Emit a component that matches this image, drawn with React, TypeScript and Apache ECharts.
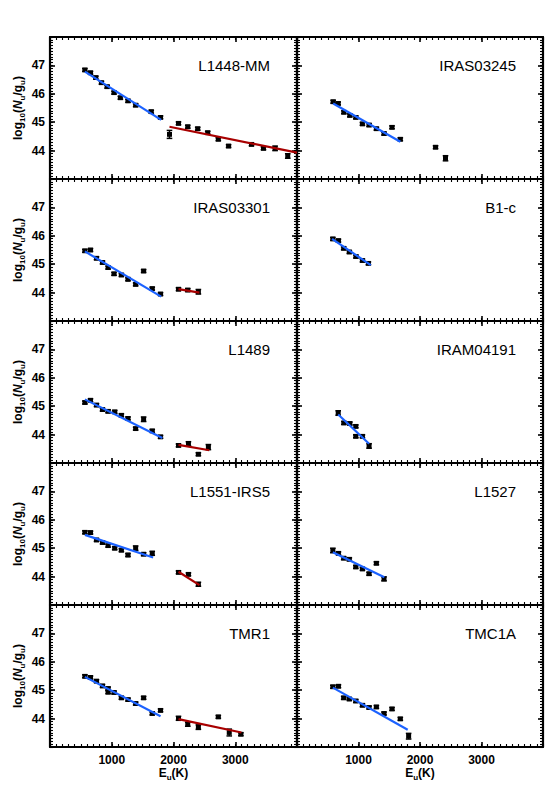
import React, { useEffect, useRef } from "react";
import * as echarts from "echarts";

// ---- Data (E_u in K, log10(N_u/g_u)); optional third value = error ----
const panelNames = ["L1448-MM", "IRAS03245", "IRAS03301", "B1-c", "L1489", "IRAM04191", "L1551-IRS5", "L1527", "TMR1", "TMC1A"];

const xTicks = [1000, 2000, 3000];
const yTicks = [44, 45, 46, 47];

const L1448_low = [[565, 46.84], [656, 46.74], [742, 46.57], [833, 46.39], [925, 46.25], [1037, 46.04], [1140, 45.86], [1263, 45.75], [1387, 45.6], [1640, 45.37], [1790, 45.17]];
const L1448_high = [[1935, 44.57, 0.14], [2081, 44.96], [2231, 44.84], [2392, 44.77], [2554, 44.63], [2726, 44.4], [2892, 44.16], [3263, 44.22], [3457, 44.08], [3645, 44.08, 0.08], [3850, 43.81, 0.08]];
const L1448_lowFit = [[565, 46.78], [1800, 45.08]];
const L1448_highFit = [[1935, 44.84], [4000, 43.93]];

const IRAS03245_low = [[588, 45.72], [670, 45.66], [762, 45.35], [859, 45.24], [956, 45.17], [1064, 44.94], [1172, 44.9], [1291, 44.77], [1415, 44.6], [1545, 44.82], [1680, 44.4]];
const IRAS03245_high = [[2253, 44.12], [2415, 43.73, 0.09]];
const IRAS03245_lowFit = [[588, 45.66], [1680, 44.31]];
const IRAS03245_highFit = [];

const IRAS03301_low = [[565, 45.47], [656, 45.5], [753, 45.21], [850, 45.06], [941, 44.88], [1037, 44.66], [1156, 44.62], [1263, 44.47], [1387, 44.29], [1516, 44.76], [1656, 44.14], [1790, 43.95]];
const IRAS03301_high = [[2081, 44.12], [2231, 44.09], [2403, 44.03, 0.08]];
const IRAS03301_lowFit = [[565, 45.45], [1800, 43.86]];
const IRAS03301_highFit = [[2081, 44.12], [2420, 44.0]];

const B1c_low = [[583, 45.89], [674, 45.83], [759, 45.56], [851, 45.43], [958, 45.27], [1064, 45.13], [1161, 45.03]];
const B1c_high = [];
const B1c_lowFit = [[570, 45.89], [1200, 44.97]];
const B1c_highFit = [];

const L1489_low = [[565, 45.13], [656, 45.21], [753, 45.04], [850, 44.88], [941, 44.82], [1048, 44.8], [1156, 44.68], [1263, 44.57], [1387, 44.21], [1516, 44.54, 0.08], [1656, 44.13], [1790, 43.92]];
const L1489_high = [[2081, 43.62], [2242, 43.68, 0.07], [2403, 43.31], [2565, 43.56, 0.09]];
const L1489_lowFit = [[565, 45.24], [1820, 43.88]];
const L1489_highFit = [[2081, 43.64], [2580, 43.45]];

const IRAM04191_low = [[670, 44.76, 0.08], [762, 44.41], [859, 44.39], [956, 44.29], [956, 43.94], [1064, 43.94], [1172, 43.6, 0.08]];
const IRAM04191_high = [];
const IRAM04191_lowFit = [[670, 44.71], [1172, 43.68]];
const IRAM04191_highFit = [];

const L1551_low = [[565, 45.56], [656, 45.55], [753, 45.29], [850, 45.2], [941, 45.09], [1048, 45.0], [1156, 44.93], [1263, 44.76], [1387, 45.0, 0.08], [1516, 44.79], [1656, 44.82, 0.07]];
const L1551_high = [[2081, 44.15], [2242, 44.08], [2403, 43.73, 0.07]];
const L1551_lowFit = [[565, 45.47], [1670, 44.67]];
const L1551_highFit = [[2081, 44.17], [2420, 43.7]];

const L1527_low = [[583, 44.92, 0.08], [674, 44.82], [759, 44.65], [851, 44.61], [956, 44.34], [1064, 44.27], [1172, 44.1], [1291, 44.47], [1415, 43.92, 0.07]];
const L1527_high = [];
const L1527_lowFit = [[583, 44.86], [1420, 43.98]];
const L1527_highFit = [];

const TMR1_low = [[565, 45.49], [656, 45.45], [753, 45.32], [850, 45.15], [941, 45.06], [941, 44.93], [1037, 44.92], [1156, 44.73], [1263, 44.67], [1387, 44.53], [1516, 44.73], [1656, 44.18], [1790, 44.29]];
const TMR1_high = [[2081, 44.01, 0.07], [2231, 43.8, 0.07], [2403, 43.7, 0.08], [2726, 44.06], [2903, 43.51, 0.12], [3091, 43.45]];
const TMR1_lowFit = [[565, 45.47], [1790, 44.08]];
const TMR1_highFit = [[2081, 43.98], [3100, 43.51]];

const TMC1A_low = [[583, 45.12], [674, 45.14], [759, 44.73], [851, 44.69], [956, 44.62], [1064, 44.47], [1172, 44.39], [1291, 44.41], [1415, 44.18], [1545, 44.34], [1680, 43.99], [1815, 43.38, 0.1]];
const TMC1A_high = [];
const TMC1A_lowFit = [[583, 45.09], [1800, 43.61]];
const TMC1A_highFit = [];

const panelLow = [L1448_low, IRAS03245_low, IRAS03301_low, B1c_low, L1489_low, IRAM04191_low, L1551_low, L1527_low, TMR1_low, TMC1A_low];
const panelHigh = [L1448_high, IRAS03245_high, IRAS03301_high, B1c_high, L1489_high, IRAM04191_high, L1551_high, L1527_high, TMR1_high, TMC1A_high];
const panelLowFit = [L1448_lowFit, IRAS03245_lowFit, IRAS03301_lowFit, B1c_lowFit, L1489_lowFit, IRAM04191_lowFit, L1551_lowFit, L1527_lowFit, TMR1_lowFit, TMC1A_lowFit];
const panelHighFit = [L1448_highFit, IRAS03245_highFit, IRAS03301_highFit, B1c_highFit, L1489_highFit, IRAM04191_highFit, L1551_highFit, L1527_highFit, TMR1_highFit, TMC1A_highFit];

const FONT = "'Liberation Sans', Arial, Helvetica, sans-serif";
const BLUE = "#1c62ff";
const RED = "#a80000";

const nameRich = {
  a: { fontFamily: FONT, fontSize: 12, fontWeight: "bold", color: "#000", verticalAlign: "top", lineHeight: 13 },
  s: { fontFamily: FONT, fontSize: 8, fontWeight: "bold", color: "#000", verticalAlign: "top", lineHeight: 9, padding: [6, 0, 0, 0] },
  n: { fontFamily: FONT, fontSize: 12, fontWeight: "bold", fontStyle: "italic", color: "#000", verticalAlign: "top", lineHeight: 13 },
};

function renderPoint(params: any, api: any) {
  const x = api.value(0);
  const y = api.value(1);
  const e = api.value(2);
  const c = api.coord([x, y]);
  const t = api.coord([x, y + e]);
  const b = api.coord([x, y - e]);
  const st = { stroke: "#000", lineWidth: 1.5 };
  return {
    type: "group",
    children: [
      { type: "line", shape: { x1: c[0], y1: t[1], x2: c[0], y2: b[1] }, style: st },
      { type: "line", shape: { x1: c[0] - 2.8, y1: t[1], x2: c[0] + 2.8, y2: t[1] }, style: st },
      { type: "line", shape: { x1: c[0] - 2.8, y1: b[1], x2: c[0] + 2.8, y2: b[1] }, style: st },
      { type: "rect", shape: { x: c[0] - 2.5, y: c[1] - 2.4, width: 5, height: 4.8 }, style: { fill: "#000" } },
    ],
  };
}

function buildOption() {
  const grid: any[] = [];
  const xAxis: any[] = [];
  const yAxis: any[] = [];
  const series: any[] = [];
  const graphic: any[] = [];

  const axisLine = () => ({ show: true, onZero: false, lineStyle: { color: "#000", width: 2.2 } });
  const majorTick = () => ({ show: true, inside: true, length: 5, lineStyle: { color: "#000", width: 1.6 } });
  const minorTickAx = () => ({ show: true, inside: true, length: 3, lineStyle: { color: "#000", width: 1.1 } });
  const hiddenLine = { show: false, onZero: false };

  panelNames.forEach((name, i) => {
    const row = Math.floor(i / 2);
    const col = i % 2;
    const left = col === 0 ? 50 : 297;
    const width = col === 0 ? 247 : 246;
    const top = 37 + row * 142;
    const height = 142;
    grid.push({ left, top, width, height });
    const isBottom = row === 4;
    const isLeft = col === 0;

    // index 4*i : main bottom x axis (data axis)
    xAxis.push({
      gridIndex: i, type: "value", min: 0, max: 4000, interval: 1000, position: "bottom",
      axisLine: axisLine(), axisTick: majorTick(), splitLine: { show: false },
      axisLabel: {
        show: isBottom, color: "#000", fontFamily: FONT, fontSize: 12, fontWeight: "bold", margin: 7,
        formatter: (v: number) => (xTicks.indexOf(v) >= 0 ? String(v) : ""),
      },
      name: isBottom ? "{a|E}{s|u}{a|(K)}" : "", nameLocation: "middle", nameGap: 20,
      nameTextStyle: { rich: nameRich },
    });
    xAxis.push({
      gridIndex: i, type: "value", min: 0, max: 4000, interval: 1000, position: "top",
      axisLine: axisLine(), axisTick: majorTick(), splitLine: { show: false }, axisLabel: { show: false },
    });
    xAxis.push({
      gridIndex: i, type: "value", min: 0, max: 4000, interval: 100, position: "bottom",
      axisLine: hiddenLine, axisTick: minorTickAx(), splitLine: { show: false }, axisLabel: { show: false },
    });
    xAxis.push({
      gridIndex: i, type: "value", min: 0, max: 4000, interval: 100, position: "top",
      axisLine: hiddenLine, axisTick: minorTickAx(), splitLine: { show: false }, axisLabel: { show: false },
    });

    yAxis.push({
      gridIndex: i, type: "value", min: 43, max: 48, interval: 1, position: "left",
      axisLine: axisLine(), axisTick: majorTick(), splitLine: { show: false },
      axisLabel: {
        show: isLeft, color: "#000", fontFamily: FONT, fontSize: 12, fontWeight: "bold", margin: 5,
        formatter: (v: number) => (yTicks.indexOf(v) >= 0 ? String(v) : ""),
      },
      name: isLeft ? "{a|log}{s|10}{a|(}{n|N}{s|u}{a|/g}{s|u}{a|)}" : "",
      nameLocation: "middle", nameRotate: 90, nameGap: 25,
      nameTextStyle: { rich: nameRich },
    });
    yAxis.push({
      gridIndex: i, type: "value", min: 43, max: 48, interval: 1, position: "right",
      axisLine: axisLine(), axisTick: majorTick(), splitLine: { show: false }, axisLabel: { show: false },
    });
    yAxis.push({
      gridIndex: i, type: "value", min: 43, max: 48, interval: 0.1, position: "left",
      axisLine: hiddenLine, axisTick: minorTickAx(), splitLine: { show: false }, axisLabel: { show: false },
    });
    yAxis.push({
      gridIndex: i, type: "value", min: 43, max: 48, interval: 0.1, position: "right",
      axisLine: hiddenLine, axisTick: minorTickAx(), splitLine: { show: false }, axisLabel: { show: false },
    });

    const xi = 4 * i;
    const yi = 4 * i;
    const lowFit = panelLowFit[i];
    const highFit = panelHighFit[i];
    if (lowFit.length) {
      series.push({
        type: "line", xAxisIndex: xi, yAxisIndex: yi, data: lowFit, showSymbol: false, symbol: "none",
        lineStyle: { color: BLUE, width: 2.2 }, z: 3, silent: true,
      });
    }
    if (highFit.length) {
      series.push({
        type: "line", xAxisIndex: xi, yAxisIndex: yi, data: highFit, showSymbol: false, symbol: "none",
        lineStyle: { color: RED, width: 2.2 }, z: 3, silent: true,
      });
    }
    const pts = panelLow[i].concat(panelHigh[i]).map((p: number[]) => [p[0], p[1], p.length > 2 ? p[2] : 0.05]);
    series.push({
      type: "custom", xAxisIndex: xi, yAxisIndex: yi, data: pts, renderItem: renderPoint,
      encode: { x: 0, y: 1 }, z: 2, silent: true,
    });

    graphic.push({
      type: "text", right: 550 - (left + width) + 27, top: top + 21,
      style: { text: name, font: `15px ${FONT}`, fill: "#000" },
    });
  });

  return { animation: false, backgroundColor: "#fff", grid, xAxis, yAxis, series, graphic };
}

export default function App() {
  const ref = useRef<HTMLDivElement>(null);
  useEffect(() => {
    if (!ref.current) return;
    const chart = echarts.init(ref.current, null, { renderer: "svg" });
    chart.setOption(buildOption() as any);
    return () => chart.dispose();
  }, []);
  return (
    <div
      ref={ref}
      style={{ position: "fixed", left: 0, top: 0, width: 550, height: 786, background: "#fff" }}
    />
  );
}
